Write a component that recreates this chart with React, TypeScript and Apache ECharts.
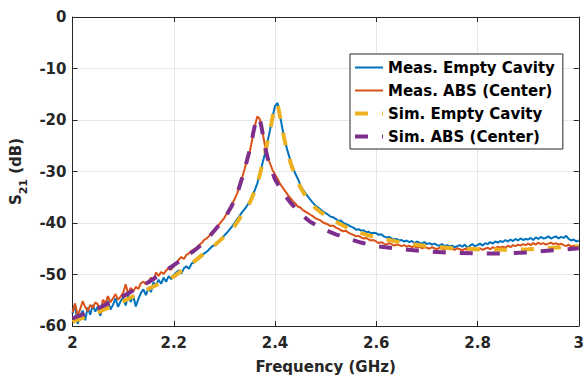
import React, { useEffect, useRef } from "react";
import * as echarts from "echarts";

// Measured sweep: 2.000 GHz to 3.000 GHz, 201 points
const measFreqStart = 2.0;
const measFreqStep = 0.005;

const measEmptyS21 = [
  -57.6, -55.8, -59.6, -58.1, -57.0, -58.9, -56.4, -57.8, -55.9, -57.2,
  -56.2, -58.0, -55.7, -56.9, -55.1, -56.8, -55.9, -54.6, -56.3, -55.2,
  -54.4, -56.0, -53.9, -55.3, -54.1, -56.2, -54.8, -53.6, -52.9, -54.0,
  -52.6, -53.4, -51.5, -52.2, -51.0, -51.8, -50.6, -51.4, -50.3, -50.9,
  -50.1, -49.6, -49.2, -49.8, -48.8, -48.4, -48.9, -47.9, -47.6, -47.3,
  -46.9, -46.4, -45.9, -45.6, -45.1, -44.6, -44.3, -43.9, -43.4, -42.9,
  -42.4, -41.9, -41.3, -40.7, -40.0, -39.3, -38.6, -37.9, -37.3, -36.6,
  -35.8, -34.8, -33.6, -32.3, -30.6, -28.5, -26.6, -24.3, -22.0, -19.4,
  -17.3, -16.7, -19.2, -21.9, -24.2, -26.1, -27.7, -29.1, -30.4, -31.4,
  -32.6, -33.5, -34.2, -34.9, -35.5, -36.1, -36.6, -37.0, -37.4, -37.8,
  -38.1, -38.4, -38.8, -38.9, -39.2, -39.6, -39.5, -40.0, -40.2, -40.4,
  -40.7, -40.9, -41.3, -41.2, -41.5, -41.4, -41.8, -41.7, -42.0, -41.9,
  -42.0, -42.3, -42.2, -42.6, -42.8, -42.7, -43.0, -43.2, -43.1, -43.4,
  -43.3, -43.6, -43.4, -43.7, -43.5, -43.9, -43.6, -43.8, -44.0, -43.7,
  -44.1, -43.9, -44.2, -44.0, -44.3, -44.4, -44.1, -44.5, -44.3, -44.6,
  -44.4, -44.7, -44.5, -44.3, -44.6, -44.2, -44.8, -44.4, -44.1, -44.5,
  -44.3, -44.0, -44.4, -43.9, -44.1, -43.7, -44.0, -43.6, -43.8, -43.5,
  -43.7, -43.3, -43.6, -43.2, -43.5, -43.1, -43.4, -43.0, -43.3, -43.1,
  -43.2, -42.9, -43.3, -42.8, -43.1, -42.7, -43.0, -42.9, -42.6, -43.0,
  -42.8, -42.6, -43.0, -42.7, -42.9, -42.5, -43.1, -43.4, -43.2, -43.6,
  -43.4,
];

const measAbsS21 = [
  -57.4, -55.6, -57.9, -56.8, -55.2, -56.3, -57.1, -55.9, -56.5, -55.4,
  -55.8, -57.6, -54.9, -55.6, -54.2, -55.4, -54.6, -53.8, -54.9, -54.3,
  -53.6, -51.9, -53.8, -52.6, -53.3, -52.4, -52.8, -51.7, -51.4, -51.9,
  -51.4, -50.6, -51.2, -49.6, -50.3, -49.5, -49.9, -49.2, -48.8, -49.1,
  -48.2, -47.8, -47.1, -46.6, -47.0, -46.2, -45.9, -45.4, -45.1, -44.9,
  -44.3, -43.9, -43.3, -43.0, -42.5, -41.9, -41.4, -40.8, -40.2, -39.6,
  -39.0, -38.1, -37.3, -36.4, -35.4, -34.3, -32.9, -31.2, -29.5, -27.6,
  -26.2, -23.8, -21.2, -19.3, -19.8, -22.2, -24.9, -27.0, -28.4, -29.7,
  -30.6, -31.4, -32.4, -33.1, -33.8, -34.5, -35.1, -35.7, -36.2, -36.8,
  -37.0, -37.5, -37.8, -38.1, -38.4, -38.7, -39.1, -39.3, -39.5, -39.9,
  -40.1, -40.3, -40.6, -40.5, -40.9, -41.1, -41.4, -41.6, -41.5, -41.9,
  -42.1, -42.3, -42.6, -42.5, -42.8, -43.0, -42.9, -43.2, -43.4, -43.3,
  -43.6, -43.9, -43.7, -44.0, -44.2, -43.9, -44.1, -44.4, -44.2, -44.3,
  -44.5, -44.3, -44.6, -44.4, -44.7, -44.5, -44.8, -44.6, -44.9, -44.7,
  -44.8, -45.0, -44.7, -44.9, -45.1, -44.8, -45.0, -45.2, -44.9, -45.1,
  -45.0, -45.2, -44.9, -45.1, -45.3, -45.0, -45.2, -44.8, -45.1, -45.3,
  -45.1, -44.9, -45.2, -45.0, -44.8, -45.1, -44.7, -44.9, -44.6, -44.8,
  -44.6, -44.8, -44.4, -44.7, -44.3, -44.5, -44.2, -44.4, -44.1, -44.3,
  -44.0, -44.3, -43.9, -44.2, -43.8, -44.1, -43.9, -44.2, -44.0, -43.8,
  -44.1, -43.9, -44.2, -44.0, -44.3, -44.5, -44.2, -44.6, -44.4, -44.7,
  -44.6,
];

const simEmptyFreq = [
  2.0, 2.05, 2.1, 2.15, 2.2, 2.24, 2.26, 2.28, 2.3, 2.32, 2.34, 2.35, 2.36,
  2.367, 2.373, 2.377, 2.382, 2.386, 2.39, 2.393, 2.396, 2.3995, 2.403, 2.406,
  2.409, 2.412, 2.418, 2.425, 2.433, 2.441, 2.45, 2.46, 2.47, 2.48, 2.49, 2.5,
  2.525, 2.55, 2.575, 2.6, 2.65, 2.7, 2.75, 2.8, 2.85, 2.9, 2.95, 3.0,
];
const simEmptyS21 = [
  -59.2, -57.3, -55.2, -52.8, -50.4, -47.5, -45.9, -44.4, -42.6, -40.6, -37.6,
  -36.1, -33.8, -31.7, -29.4, -27.8, -25.7, -23.9, -22.1, -20.6, -19.0, -17.4,
  -16.8, -17.4, -18.9, -20.5, -23.5, -26.5, -29.0, -31.0, -33.0, -34.7, -36.0,
  -37.1, -37.9, -38.5, -40.0, -41.3, -42.1, -42.8, -43.8, -44.5, -44.9, -45.1,
  -45.2, -45.1, -44.8, -44.5,
];

const simAbsFreq = [
  2.0, 2.05, 2.1, 2.15, 2.2, 2.24, 2.26, 2.28, 2.3, 2.315, 2.325, 2.335, 2.342,
  2.348, 2.353, 2.357, 2.361, 2.364, 2.367, 2.37, 2.373, 2.377, 2.38, 2.386,
  2.393, 2.4, 2.41, 2.42, 2.432, 2.45, 2.47, 2.5, 2.52, 2.55, 2.57, 2.6, 2.65,
  2.7, 2.75, 2.8, 2.85, 2.9, 2.95, 3.0,
];
const simAbsS21 = [
  -58.5, -56.6, -54.2, -51.5, -48.2, -45.4, -43.8, -41.5, -39.2, -36.6, -34.4,
  -31.3, -28.8, -26.6, -24.6, -22.5, -20.7, -19.8, -19.4, -19.9, -21.2, -23.4,
  -25.1, -27.6, -29.7, -31.5, -33.2, -34.7, -36.2, -38.2, -39.8, -41.4, -42.2,
  -43.2, -43.8, -44.5, -45.1, -45.5, -45.8, -45.9, -45.9, -45.7, -45.3, -44.9,
];

const seriesNames = [
  "Meas. Empty Cavity",
  "Meas. ABS (Center)",
  "Sim. Empty Cavity",
  "Sim. ABS (Center)",
];
const seriesColors = ["#0072BD", "#D95319", "#EDB120", "#7E2F8E"];

const xMin = 2;
const xMax = 3;
const xInterval = 0.2;
const yMin = -60;
const yMax = 0;
const yInterval = 10;

const FONT = "DejaVu Sans";
const AXIS_COLOR = "#262626";
const SIM_DASH = [13, 14];

function zipMeas(values: number[]) {
  return values.map((v, i) => [
    Number((measFreqStart + i * measFreqStep).toFixed(3)),
    v,
  ]);
}
function zipXY(xs: number[], ys: number[]) {
  return xs.map((x, i) => [x, ys[i]]);
}

export default function App() {
  const ref = useRef<HTMLDivElement>(null);
  useEffect(() => {
    if (!ref.current) return;
    const chart = echarts.init(ref.current, null, { renderer: "svg" });
    const labelStyle = {
      fontFamily: FONT,
      fontWeight: "bold" as const,
      fontSize: 15,
      color: AXIS_COLOR,
    };
    const axisLine = {
      show: true,
      onZero: false,
      lineStyle: { color: AXIS_COLOR, width: 1 },
    };
    const axisTick = {
      show: true,
      inside: true,
      length: 5,
      lineStyle: { color: AXIS_COLOR, width: 1 },
    };
    const splitLine = { show: true, lineStyle: { color: "#e6e6e6", width: 1 } };

    const legendData = seriesNames.map((name, i) => ({
      name,
      itemStyle: { opacity: 0 },
      lineStyle:
        i < 2
          ? { color: seriesColors[i], width: 2, type: "solid" }
          : { color: seriesColors[i], width: 4, type: SIM_DASH },
    }));

    const option: any = {
      animation: false,
      backgroundColor: "#ffffff",
      grid: { left: 71, right: 1, top: 17, bottom: 55, containLabel: false },
      legend: {
        show: true,
        orient: "vertical",
        left: 350,
        top: 54,
        itemWidth: 28,
        itemHeight: 14,
        itemGap: 8,
        padding: [6, 8, 5, 3],
        borderColor: AXIS_COLOR,
        borderWidth: 1,
        backgroundColor: "#ffffff",
        selectedMode: false,
        itemStyle: { opacity: 0 },
        textStyle: {
          fontFamily: FONT,
          fontWeight: "bold",
          fontSize: 15,
          color: "#000000",
        },
        data: legendData,
      },
      xAxis: [
        {
          type: "value",
          min: xMin,
          max: xMax,
          interval: xInterval,
          position: "bottom",
          axisLine,
          axisTick,
          splitLine,
          axisLabel: {
            ...labelStyle,
            margin: 9,
            formatter: (v: number) => String(Number(v.toFixed(1))),
          },
          name: "Frequency (GHz)",
          nameLocation: "middle",
          nameGap: 33,
          nameTextStyle: { ...labelStyle },
        },
        {
          type: "value",
          min: xMin,
          max: xMax,
          interval: xInterval,
          position: "top",
          axisLine,
          axisTick,
          splitLine: { show: false },
          axisLabel: { show: false },
        },
      ],
      yAxis: [
        {
          type: "value",
          min: yMin,
          max: yMax,
          interval: yInterval,
          position: "left",
          axisLine,
          axisTick,
          splitLine,
          axisLabel: { ...labelStyle, margin: 6 },
          name: "{s|S}{sub|21}{s| (dB)}",
          nameLocation: "middle",
          nameRotate: 90,
          nameGap: 38,
          nameTextStyle: {
            ...labelStyle,
            rich: {
              s: {
                ...labelStyle,
                lineHeight: 26,
                verticalAlign: "middle",
              },
              sub: {
                fontFamily: FONT,
                fontWeight: "bold",
                fontSize: 11,
                color: AXIS_COLOR,
                lineHeight: 11,
                verticalAlign: "bottom",
              },
            },
          },
        },
        {
          type: "value",
          min: yMin,
          max: yMax,
          interval: yInterval,
          position: "right",
          axisLine,
          axisTick,
          splitLine: { show: false },
          axisLabel: { show: false },
        },
      ],
      series: [
        {
          name: seriesNames[0],
          type: "line",
          data: zipMeas(measEmptyS21),
          symbol: "none",
          showSymbol: false,
          clip: true,
          color: seriesColors[0],
          lineStyle: { color: seriesColors[0], width: 2 },
          z: 2,
        },
        {
          name: seriesNames[1],
          type: "line",
          data: zipMeas(measAbsS21),
          symbol: "none",
          showSymbol: false,
          clip: true,
          color: seriesColors[1],
          lineStyle: { color: seriesColors[1], width: 2 },
          z: 2,
        },
        {
          name: seriesNames[2],
          type: "line",
          data: zipXY(simEmptyFreq, simEmptyS21),
          symbol: "none",
          showSymbol: false,
          clip: true,
          color: seriesColors[2],
          lineStyle: { color: seriesColors[2], width: 4, type: SIM_DASH },
          z: 3,
        },
        {
          name: seriesNames[3],
          type: "line",
          data: zipXY(simAbsFreq, simAbsS21),
          symbol: "none",
          showSymbol: false,
          clip: true,
          color: seriesColors[3],
          lineStyle: { color: seriesColors[3], width: 4, type: SIM_DASH },
          z: 3,
        },
      ],
    };
    chart.setOption(option);
    return () => chart.dispose();
  }, []);
  return (
    <div
      ref={ref}
      style={{
        position: "fixed",
        left: 0,
        top: 0,
        width: 587,
        height: 381,
        background: "#fff",
      }}
    />
  );
}
